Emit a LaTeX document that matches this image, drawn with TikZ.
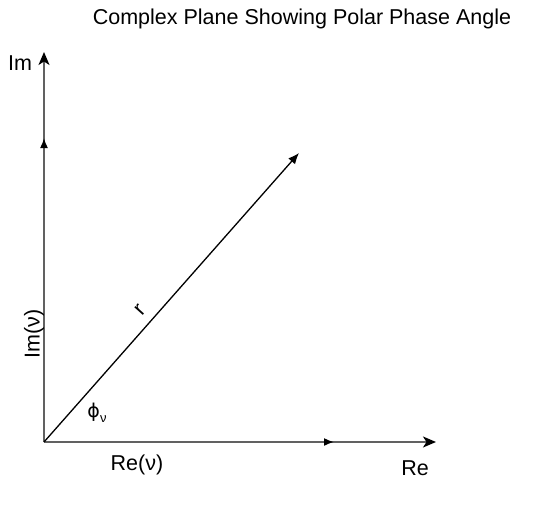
\documentclass[tikz,border=0pt]{standalone}
\usepackage{fontspec}
\setmainfont{Liberation Sans}
\newfontfamily\djv{DejaVu Sans}
\usetikzlibrary{arrows.meta}
\begin{document}
\begin{tikzpicture}[x=1pt,y=-1pt,
  axis/.style={draw=black!62,line width=1.6pt},
  endtip/.style={-{Stealth[length=13pt,width=11pt,inset=3.5pt,color=black]}},
  midtip/.style={-{Latex[length=10pt,width=8pt,color=black]}},
  lbl/.style={font=\fontsize{21.5}{25}\selectfont,inner sep=0pt}]
\useasboundingbox (0,0) rectangle (550,507);
\coordinate (O) at (44,442);
\coordinate (ymid) at (44,138);
\coordinate (ytop) at (44,52);
\coordinate (xmid) at (334,442);
\coordinate (xend) at (436,442);
\coordinate (R) at (299,153);
\draw[axis,endtip] (O) -- (ytop);
\draw[axis,midtip] (O) -- (ymid);
\draw[axis,endtip] (O) -- (xend);
\draw[axis,midtip] (O) -- (xmid);
\draw[line width=1.3pt,-{Latex[length=11pt,width=9pt]}] (O) -- (R);
\node[lbl] (title) at (302,19) {Complex Plane Showing Polar Phase Angle};
\node[lbl] (im) at (20,63) {Im};
\node[lbl] (re) at (415,468) {Re};
\node[lbl] (rev) at (137,465) {Re(ν)};
\node[lbl,rotate=90] (imv) at (34,334) {Im(ν)};
\node[lbl,rotate=48] (r) at (140,310) {r};
\node[lbl] (phi) at (97,413) {{\djv\fontsize{19}{22}\selectfont ϕ}\raisebox{-0.4ex}{\fontsize{13}{15}\selectfont ν}};
\end{tikzpicture}
\end{document}
